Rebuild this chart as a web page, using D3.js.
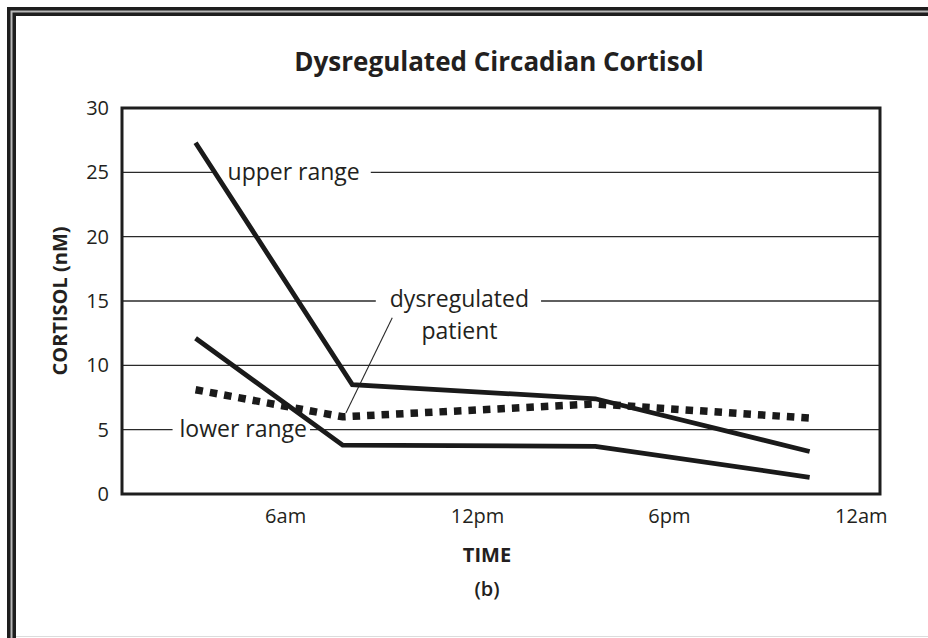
<!DOCTYPE html>
<html>
<head>
<meta charset="utf-8">
<script src="https://cdn.jsdelivr.net/npm/d3@7"></script>
<style>
  body { margin: 0; background: #fff; }
  text { font-family: "Open Sans", "Noto Sans", sans-serif; fill: #231f20; }
</style>
</head>
<body>
<div id="holder"></div>
<script>
// hours since midnight
var hours = [3.2, 8.0, 15.7, 22.4];
var upperRange = [27.3, 8.5, 7.4, 3.3];
var lowerRange = [12.1, 3.8, 3.7, 1.3];
var patient = [8.1, 6.0, 7.0, 5.9];
var upperBend = 8.1, lowerBend = 7.8;

var yTicks = [0, 5, 10, 15, 20, 25, 30];
var xTicks = [6, 12, 18, 24];
var xTickLabels = ["6am", "12pm", "6pm", "12am"];

var fullWidth = 928, fullHeight = 638;
var plot = {left: 122, top: 108, right: 880, bottom: 494};

var svg = d3.select('#holder').append('svg')
  .attr('width', fullWidth)
  .attr('height', fullHeight);

// frame: double rule on top and left, faint line at bottom
svg.append('path')
  .attr('d', 'M11.5,' + fullHeight + 'V11.5H' + fullWidth)
  .attr('fill', 'none').attr('stroke', '#1e1e1e').attr('stroke-width', 9);
svg.append('path')
  .attr('d', 'M11.5,' + fullHeight + 'V11.5H' + fullWidth)
  .attr('fill', 'none').attr('stroke', '#b8b8b8').attr('stroke-width', 2);
svg.append('line')
  .attr('x1', 16).attr('x2', fullWidth).attr('y1', 636.5).attr('y2', 636.5)
  .attr('stroke', '#dcdcdc').attr('stroke-width', 1);

var xScale = d3.scaleLinear().domain([0.9, 24.6]).range([plot.left, plot.right]);
var yScale = d3.scaleLinear().domain([0, 30]).range([plot.bottom, plot.top]);

// gridlines
svg.append('g').selectAll('line')
  .data(yTicks.filter(function(d) { return d > 0 && d < 30; }))
  .enter().append('line')
  .attr('x1', plot.left).attr('x2', plot.right)
  .attr('y1', function(d) { return yScale(d); })
  .attr('y2', function(d) { return yScale(d); })
  .attr('stroke', '#2a2a2a').attr('stroke-width', 1.4);

// labels that break the gridlines
var notes = [
  {text: 'upper range', h: 4.2, v: 25, anchor: 'start', padL: 11, padR: 11},
  {text: 'dysregulated', h: 11.45, v: 15.1, anchor: 'middle', padL: 14, padR: 12},
  {text: 'lower range', h: 2.7, v: 5, anchor: 'start', padL: 7, padR: 3}
];
var bgLayer = svg.append('g');
var lineLayer = svg.append('g');
var noteLayer = svg.append('g');

notes.forEach(function(n) {
  var t = noteLayer.append('text')
    .attr('x', xScale(n.h)).attr('y', yScale(n.v))
    .attr('dy', '0.33em')
    .attr('text-anchor', n.anchor)
    .style('font-size', '23px')
    .text(n.text);
  var b = t.node().getBBox();
  bgLayer.append('rect')
    .attr('x', b.x - n.padL).attr('y', yScale(n.v) - 4)
    .attr('width', b.width + n.padL + n.padR).attr('height', 8)
    .attr('fill', '#fff');
});
noteLayer.append('text')
  .attr('x', xScale(11.45)).attr('y', yScale(12.6))
  .attr('dy', '0.33em').attr('text-anchor', 'middle')
  .style('font-size', '23px')
  .text('patient');

// leader from label to dotted line
lineLayer.append('line')
  .attr('x1', xScale(9.35)).attr('y1', yScale(13.7))
  .attr('x2', xScale(7.9)).attr('y2', yScale(6.3))
  .attr('stroke', '#2a2a2a').attr('stroke-width', 1.1);

var line = d3.line()
  .x(function(d) { return xScale(d[0]); })
  .y(function(d) { return yScale(d[1]); });

function pts(xs, ys) { return xs.map(function(x, i) { return [x, ys[i]]; }); }

var upperHours = hours.slice(); upperHours[1] = upperBend;
var lowerHours = hours.slice(); lowerHours[1] = lowerBend;

lineLayer.append('path')
  .datum(pts(upperHours, upperRange))
  .attr('d', line)
  .attr('fill', 'none').attr('stroke', '#1a1a1a').attr('stroke-width', 4.8);

lineLayer.append('path')
  .datum(pts(lowerHours, lowerRange))
  .attr('d', line)
  .attr('fill', 'none').attr('stroke', '#1a1a1a').attr('stroke-width', 4.8);

lineLayer.append('path')
  .datum(pts(lowerHours, patient))
  .attr('d', line)
  .attr('fill', 'none').attr('stroke', '#1a1a1a').attr('stroke-width', 7.5)
  .attr('stroke-dasharray', '7.5,7');

// plot box
svg.append('rect')
  .attr('x', plot.left).attr('y', plot.top)
  .attr('width', plot.right - plot.left).attr('height', plot.bottom - plot.top)
  .attr('fill', 'none').attr('stroke', '#1e1e1e').attr('stroke-width', 3);

// axes
var yAxis = d3.axisLeft(yScale).tickValues(yTicks).tickSize(0).tickPadding(13);
var gy = svg.append('g').attr('transform', 'translate(' + plot.left + ',0)').call(yAxis);
gy.select('.domain').remove();
gy.selectAll('text').style('font-size', '20px').style('font-family', '"Open Sans", sans-serif').attr('fill', '#231f20');

var xAxis = d3.axisBottom(xScale).tickValues(xTicks).tickSize(0).tickPadding(15)
  .tickFormat(function(d, i) { return xTickLabels[i]; });
var gx = svg.append('g').attr('transform', 'translate(0,' + plot.bottom + ')').call(xAxis);
gx.select('.domain').remove();
gx.selectAll('text').style('font-size', '20px').style('font-family', '"Open Sans", sans-serif').attr('fill', '#231f20');

// titles
svg.append('text')
  .attr('x', 499).attr('y', 71)
  .attr('text-anchor', 'middle')
  .style('font-size', '26px').style('font-weight', 700)
  .text('Dysregulated Circadian Cortisol');

svg.append('text')
  .attr('transform', 'translate(67,' + ((plot.top + plot.bottom) / 2) + ') rotate(-90)')
  .attr('text-anchor', 'middle')
  .style('font-size', '20px').style('font-weight', 700)
  .text('CORTISOL (nM)');

svg.append('text')
  .attr('x', 487).attr('y', 562)
  .attr('text-anchor', 'middle')
  .style('font-size', '20px').style('font-weight', 700)
  .text('TIME');

svg.append('text')
  .attr('x', 487).attr('y', 596)
  .attr('text-anchor', 'middle')
  .style('font-size', '20px').style('font-weight', 600)
  .text('(b)');
</script>
</body>
</html>
